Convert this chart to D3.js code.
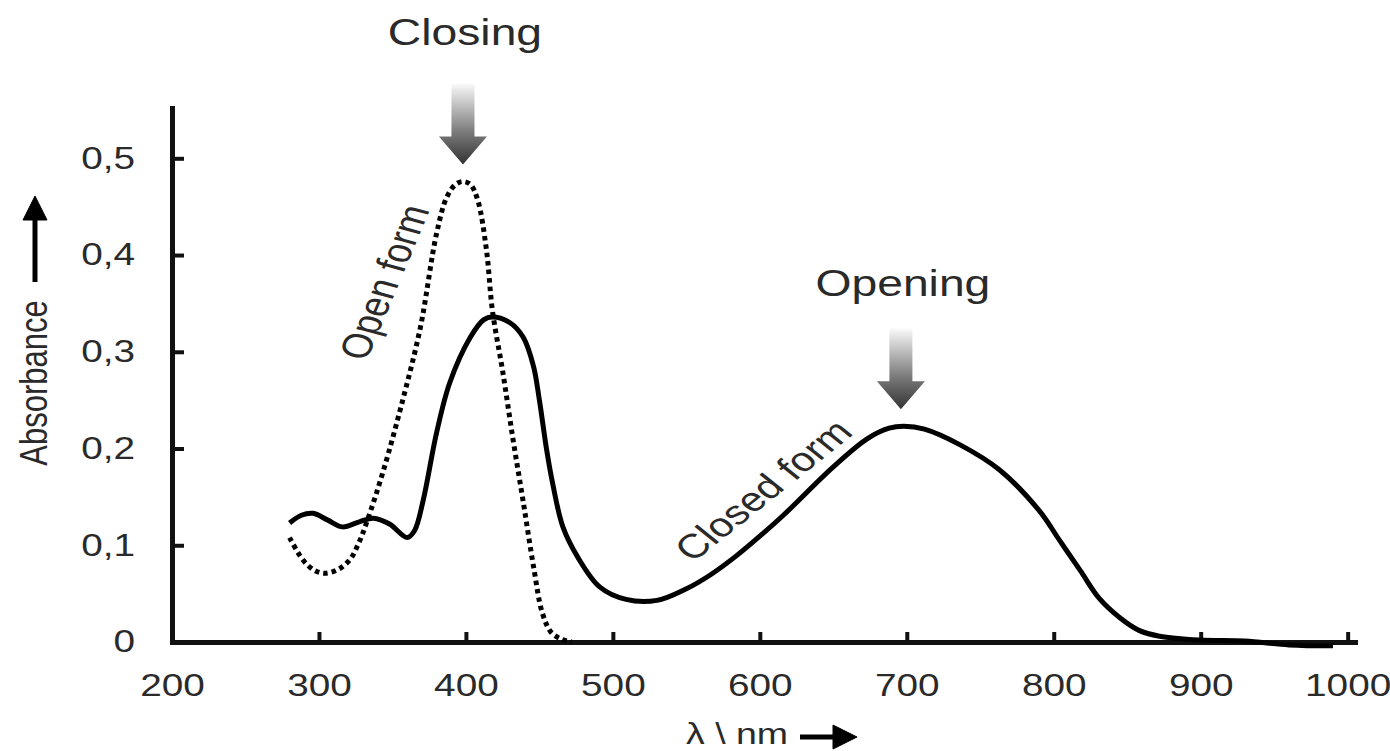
<!DOCTYPE html>
<html>
<head>
<meta charset="utf-8">
<script src="https://cdn.jsdelivr.net/npm/d3@7"></script>
<style>
html,body{margin:0;padding:0;background:#fff;}
svg text{font-family:"Liberation Sans",Arial,sans-serif;fill:#2a2a2a;}
</style>
</head>
<body>
<div id="chart"></div>
<script>
// closed form (solid line)
const closedNm=[280,288,296,306,316,327,337,348,360,365,371,380,389,403,412,418,430,439,446,450,455,459,466,476,491,509,530,550,566,584,602,616,650,673,688,698,712,736,763,790,804,818,831,845,858,872,899,930,960,990];
const closedAbs=[.123,.131,.133,.126,.119,.124,.128,.122,.108,.115,.147,.216,.268,.315,.333,.336,.330,.315,.285,.25,.198,.164,.119,.088,.057,.044,.043,.055,.069,.089,.112,.131,.181,.210,.221,.223,.220,.204,.178,.136,.105,.074,.045,.025,.012,.006,.002,.001,-.003,-.004];
// open form (dotted line)
const openNm=[280,289,297,304,313,321,327,333,344,357,369,380,387,393,398,403,408,414,418,425,432,439,446,452,458,465,472];
const openAbs=[.108,.085,.074,.071,.075,.085,.102,.126,.178,.25,.325,.422,.46,.473,.476,.473,.457,.405,.343,.28,.21,.145,.078,.03,.01,.003,0];
const xTicks=[200,300,400,500,600,700,800,900,1000];
const yTicks=[0,0.1,0.2,0.3,0.4,0.5];
const peaks=[{label:'Closing',nm:398,a:.476,lift:120},{label:'Opening',nm:696,a:.223,lift:113}];

const W=1390,H=751,SX=1.25; // the source figure is stretched horizontally
const svg=d3.select('#chart').append('svg').attr('width',W).attr('height',H);
const x=d3.scaleLinear().domain([200,1005]).range([172,1355]);
const y=d3.scaleLinear().domain([0,.552]).range([642,108]);

const defs=svg.append('defs');
const grad=defs.append('linearGradient').attr('id','arrowGrad').attr('x1',0).attr('y1',0).attr('x2',0).attr('y2',1);
grad.append('stop').attr('offset','0%').attr('stop-color','#fafafa');
grad.append('stop').attr('offset','60%').attr('stop-color','#7a7a7a');
grad.append('stop').attr('offset','100%').attr('stop-color','#333');

const fmt=d=>d===0?'0':d3.format('.1f')(d).replace('.',',');
const yAx=svg.append('g').attr('transform',`translate(${x(200)},0)`)
  .call(d3.axisLeft(y).tickValues(yTicks).tickFormat(fmt).tickSizeInner(-12).tickSizeOuter(0).tickPadding(37));
const xAx=svg.append('g').attr('transform',`translate(0,${y(0)})`)
  .call(d3.axisBottom(x).tickValues(xTicks).tickFormat(d3.format('d')).tickSizeInner(-10).tickSizeOuter(0).tickPadding(32));
[yAx,xAx].forEach(a=>{
  a.select('.domain').attr('stroke','#111').attr('stroke-width',5).attr('stroke-linecap','square');
  a.selectAll('.tick line').attr('stroke','#111').attr('stroke-width',4);
  a.selectAll('.tick text').attr('font-size',31).attr('fill','#2a2a2a');
});
// apply horizontal stretch to tick labels
yAx.selectAll('.tick text').attr('transform',function(){const tx=+d3.select(this).attr('x');return `translate(${tx},0) scale(${SX},1) translate(${-tx},0)`;});
xAx.selectAll('.tick text').attr('transform',`scale(${SX},1)`);

const line=d3.line().x(d=>x(d[0])).y(d=>y(d[1])).curve(d3.curveCatmullRom.alpha(.5));
svg.append('path').datum(closedNm.map((n,i)=>[n,closedAbs[i]])).attr('d',line)
  .attr('fill','none').attr('stroke','#000').attr('stroke-width',5);
svg.append('path').datum(openNm.map((n,i)=>[n,openAbs[i]])).attr('d',line)
  .attr('fill','none').attr('stroke','#000').attr('stroke-width',5).attr('stroke-dasharray','4.5,4');

// arrows over the peaks
peaks.forEach(p=>{
  const cx=x(p.nm),tip=y(p.a)-17;
  const pts=[[-11.5,-81],[11.5,-81],[11.5,-28],[24,-28],[0,0],[-24,-28],[-11.5,-28]];
  svg.append('path').attr('d','M'+pts.map(q=>[cx+q[0],tip+q[1]].join(',')).join('L')+'Z').attr('fill','url(#arrowGrad)');
  svg.append('text').attr('transform',`translate(${cx+2},${tip-p.lift}) scale(${SX},1)`)
    .attr('text-anchor','middle').attr('font-size',37).text(p.label);
});

function label(txt,cx,cy,ang,size){
  svg.append('text').attr('transform',`translate(${cx},${cy}) scale(${SX},1) rotate(${ang})`)
    .attr('text-anchor','middle').attr('dy','0.35em').attr('font-size',size).text(txt);
}
label('Open form',x(347)-4,282,-71.4,34);
label('Closed form',763,490,-45,34);
label('Absorbance',33,383,-90,31);
label('λ \\ nm',737,733,0,30);

// axis direction arrows
const ah=svg.append('g').attr('fill','#000').attr('stroke','#000');
ah.append('line').attr('x1',35).attr('x2',35).attr('y1',282).attr('y2',215).attr('stroke-width',5);
ah.append('path').attr('d','M35,196L47,220L23,220Z');
ah.append('line').attr('x1',800).attr('x2',838).attr('y1',737).attr('y2',737).attr('stroke-width',5);
ah.append('path').attr('d','M857,737L833,725L833,749Z');
</script>
</body>
</html>
